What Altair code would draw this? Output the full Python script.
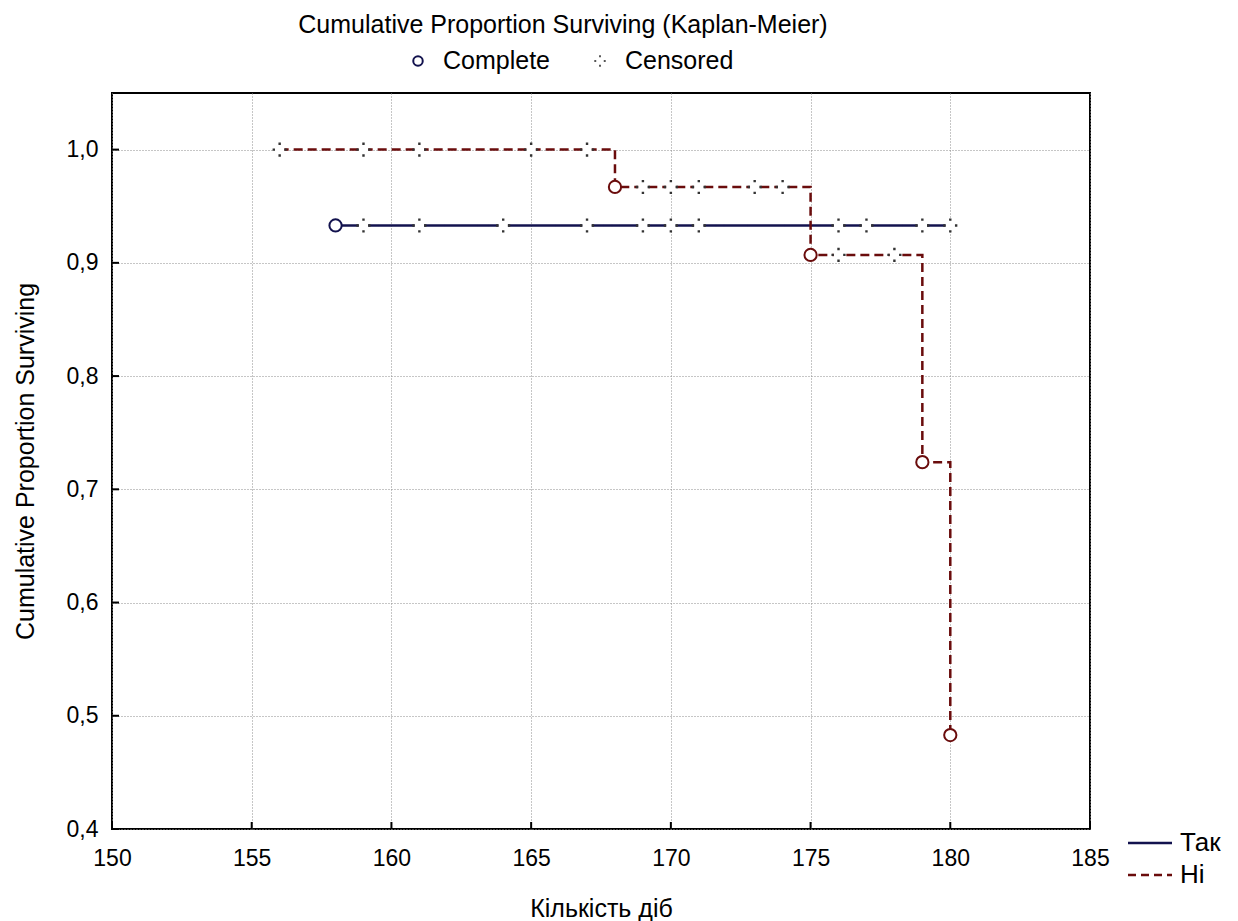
import altair as alt
import pandas as pd

# ---------------- data ----------------
x_ticks = [150, 155, 160, 165, 170, 175, 180, 185]
y_ticks = [0.4, 0.5, 0.6, 0.7, 0.8, 0.9, 1.0]

# Kaplan-Meier step curves
tak_times = [158, 180]
tak_surv = [0.933, 0.933]
ni_times = [156, 168, 175, 179, 180]
ni_surv = [1.0, 0.967, 0.907, 0.724, 0.483]

# complete (event) observations
tak_complete_t = [158]
tak_complete_s = [0.933]
ni_complete_t = [168, 175, 179, 180]
ni_complete_s = [0.967, 0.907, 0.724, 0.483]

# censored observations
tak_cens_t = [159, 161, 164, 167, 169, 170, 171, 176, 177, 179, 180]
tak_cens_s = [0.933, 0.933, 0.933, 0.933, 0.933, 0.933, 0.933, 0.933, 0.933, 0.933, 0.933]
ni_cens_t = [156, 159, 161, 165, 167, 169, 170, 171, 173, 174, 176, 178]
ni_cens_s = [1.0, 1.0, 1.0, 1.0, 1.0, 0.967, 0.967, 0.967, 0.967, 0.967, 0.907, 0.907]

groups = ["Так", "Ні"]
colors = ["#12124e", "#6a0c0c"]

# ---------------- tables ----------------
curve = pd.concat([
    pd.DataFrame({"t": tak_times, "s": tak_surv, "g": "Так"}),
    pd.DataFrame({"t": ni_times, "s": ni_surv, "g": "Ні"}),
])
complete = pd.concat([
    pd.DataFrame({"t": tak_complete_t, "s": tak_complete_s, "g": "Так"}),
    pd.DataFrame({"t": ni_complete_t, "s": ni_complete_s, "g": "Ні"}),
])
censored = pd.concat([
    pd.DataFrame({"t": tak_cens_t, "s": tak_cens_s, "g": "Так"}),
    pd.DataFrame({"t": ni_cens_t, "s": ni_cens_s, "g": "Ні"}),
])
xt = pd.DataFrame({"t": x_ticks})
yt = pd.DataFrame({"v": y_ticks})

FONT = "Liberation Sans"
W, H = 978, 736

xscale = alt.Scale(domain=[150, 185], nice=False, zero=False)
yscale = alt.Scale(domain=[0.4, 1.05], nice=False, zero=False)
cscale = alt.Scale(domain=groups, range=colors)

X = alt.X("t:Q", scale=xscale,
          axis=alt.Axis(values=x_ticks, title="Кількість діб", labelPadding=18,
                        titlePadding=26, format="d", labelFlush=False))
Y = alt.Y("s:Q", scale=yscale,
          axis=alt.Axis(values=y_ticks, title="Cumulative Proportion Surviving",
                        labelPadding=14, titlePadding=28, labelFlush=False,
                        labelExpr="replace(format(datum.value, '.1f'), '.', ',')"))

lines = alt.Chart(curve).mark_line(interpolate="step-after", strokeWidth=2.5).encode(
    x=X, y=Y,
    color=alt.Color("g:N", scale=cscale, legend=None),
    strokeDash=alt.StrokeDash("g:N", scale=alt.Scale(domain=groups, range=[[1, 0], [9, 5]]),
                              legend=None),
    detail="g:N",
)

cens_bg = alt.Chart(censored).mark_point(shape="square", filled=True, color="white",
                                         opacity=1, size=90).encode(
    x=alt.X("t:Q", scale=xscale), y=alt.Y("s:Q", scale=yscale))

dots_path = ("M-0.17,-1H0.17V-0.66H-0.17Z M-0.17,0.66H0.17V1H-0.17Z "
             "M-1,-0.17H-0.66V0.17H-1Z M0.66,-0.17H1V0.17H0.66Z")
cens_dots = alt.Chart(censored).mark_point(shape=dots_path, filled=True, color="#333333",
                                           opacity=1, size=200).encode(
    x=alt.X("t:Q", scale=xscale), y=alt.Y("s:Q", scale=yscale))

comp = alt.Chart(complete).mark_point(shape="circle", filled=True, fill="white",
                                      strokeWidth=2, size=150, opacity=1).encode(
    x=alt.X("t:Q", scale=xscale), y=alt.Y("s:Q", scale=yscale),
    stroke=alt.Stroke("g:N", scale=cscale, legend=None))

# inward ticks
xtick_marks = alt.Chart(xt).mark_rule(color="black", strokeWidth=2).encode(
    x=alt.X("t:Q", scale=xscale), y=alt.value(H), y2=alt.value(H - 7))
ytick_marks = alt.Chart(yt).mark_rule(color="black", strokeWidth=2).encode(
    y=alt.Y("v:Q", scale=yscale), x=alt.value(0), x2=alt.value(7))

one = pd.DataFrame({"k": [0]})

def txt(s, x, y, size=25, align="left"):
    return alt.Chart(one).mark_text(text=s, font=FONT, fontSize=size, align=align,
                                    baseline="middle", color="black").encode(
        x=alt.value(x), y=alt.value(y))

title = txt("Cumulative Proportion Surviving (Kaplan-Meier)", 451, -68, 25, "center")
leg_c_sym = alt.Chart(one).mark_point(shape="circle", filled=True, fill="white", stroke=colors[0],
                                      strokeWidth=2, size=90, opacity=1).encode(
    x=alt.value(306), y=alt.value(-32))
leg_c_txt = txt("Complete", 331, -32, 25)
leg_x_bg = alt.Chart(one).mark_point(shape=dots_path, filled=True, color="#555555",
                                     opacity=1, size=130).encode(
    x=alt.value(488), y=alt.value(-32))
leg_x_txt = txt("Censored", 513, -32, 25)

leg_tak_line = alt.Chart(one).mark_rule(color=colors[0], strokeWidth=2.5).encode(
    x=alt.value(1016), x2=alt.value(1060), y=alt.value(750))
leg_ni_line = alt.Chart(one).mark_rule(color=colors[1], strokeWidth=2.5, strokeDash=[8, 5]).encode(
    x=alt.value(1016), x2=alt.value(1060), y=alt.value(782))
leg_tak_txt = txt("Так", 1068, 750, 26)
leg_ni_txt = txt("Ні", 1068, 782, 26)

chart = alt.layer(
    lines, cens_bg, cens_dots, comp, xtick_marks, ytick_marks,
    title, leg_c_sym, leg_c_txt, leg_x_bg, leg_x_txt,
    leg_tak_line, leg_ni_line, leg_tak_txt, leg_ni_txt,
).properties(
    width=W, height=H,
    autosize=alt.AutoSizeParams(type="none"),
    padding={"left": 112, "top": 93, "right": 148, "bottom": 92},
    background="white",
).configure_view(
    stroke="black", strokeWidth=2
).configure_axis(
    domain=False, ticks=False, grid=True, gridColor="#8c8c8c", gridDash=[1, 2],
    gridWidth=1, labelFont=FONT, titleFont=FONT, labelFontSize=23, titleFontSize=25,
    labelColor="black", titleColor="black", titleFontWeight="normal",
)

chart.save("out.html", embed_options={"renderer": "svg", "actions": False})
